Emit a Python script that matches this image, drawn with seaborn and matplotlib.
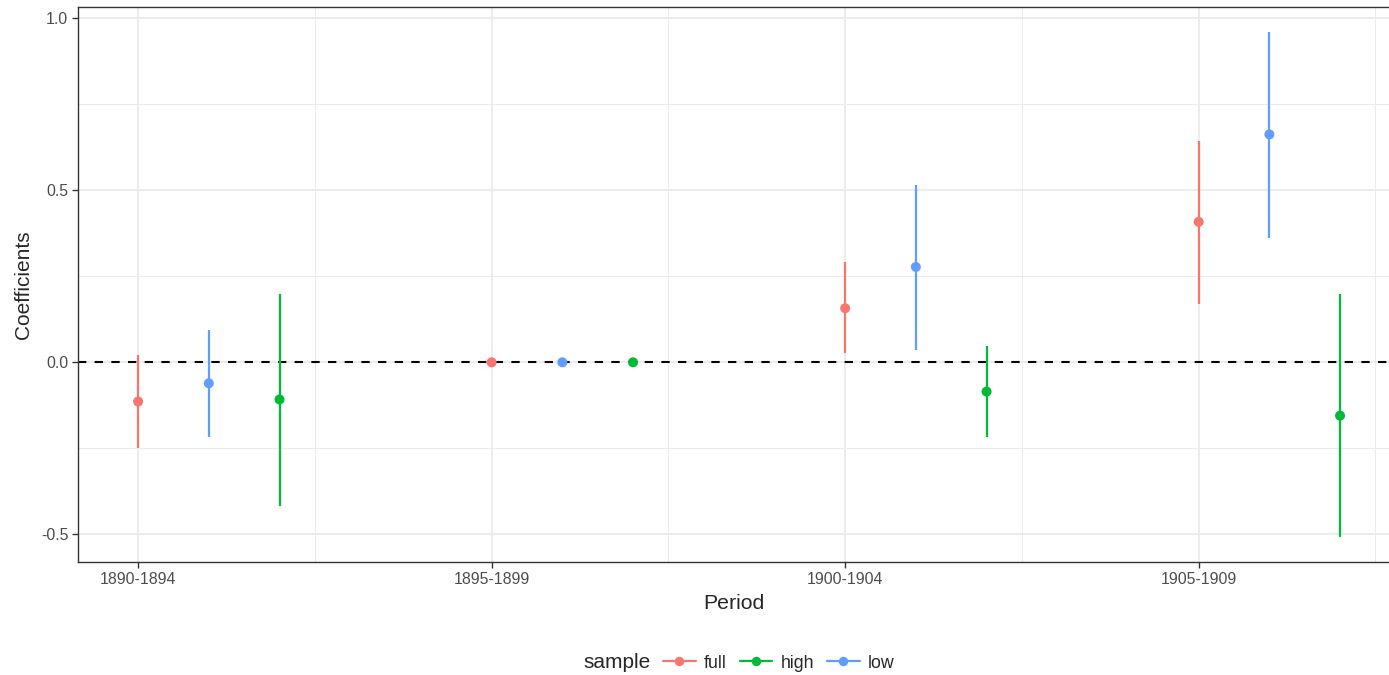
import numpy as np
import pandas as pd
import matplotlib
matplotlib.use("Agg")
import matplotlib.pyplot as plt
from matplotlib.lines import Line2D
import seaborn as sns

# ---- data ----
periods = ["1890-1894", "1895-1899", "1900-1904", "1905-1909"]
samples = ["full", "high", "low"]

coef_full = [-0.114, 0.0, 0.157, 0.408]
lo_full = [-0.248, 0.0, 0.026, 0.169]
hi_full = [0.020, 0.0, 0.290, 0.644]

coef_low = [-0.061, 0.0, 0.277, 0.662]
lo_low = [-0.216, 0.0, 0.035, 0.361]
hi_low = [0.093, 0.0, 0.516, 0.959]

coef_high = [-0.108, 0.0, -0.085, -0.155]
lo_high = [-0.417, 0.0, -0.216, -0.507]
hi_high = [0.198, 0.0, 0.047, 0.198]

colors = {"full": "#F8766D", "high": "#00BA38", "low": "#619CFF"}
dodge = {"full": 0.0, "low": 0.2, "high": 0.4}

rows = []
for s, c, lo, hi in [("full", coef_full, lo_full, hi_full),
                     ("low", coef_low, lo_low, hi_low),
                     ("high", coef_high, lo_high, hi_high)]:
    for i, p in enumerate(periods):
        rows.append({"period": p, "sample": s, "coef": c[i], "lo": lo[i], "hi": hi[i],
                     "x": i + 1 + dodge[s]})
df = pd.DataFrame(rows)

# ---- figure ----
sns.set_style("white")
plt.rcParams["font.family"] = ["Liberation Sans", "DejaVu Sans"]

fig = plt.figure(figsize=(13.89, 6.75), dpi=100)
ax = fig.add_axes([78 / 1389, 1 - 562 / 675, 1 - 78 / 1389, (562 - 7) / 675])

# grid like theme_bw
grid_major = "#EBEBEB"
for xv in range(1, 5):
    ax.axvline(xv, color=grid_major, lw=1.3, zorder=0)
for xv in np.arange(1.5, 5, 1):
    ax.axvline(xv, color=grid_major, lw=0.7, zorder=0)
for yv in [-0.5, 0, 0.5, 1.0]:
    ax.axhline(yv, color=grid_major, lw=1.3, zorder=0)
for yv in [-0.25, 0.25, 0.75]:
    ax.axhline(yv, color=grid_major, lw=0.7, zorder=0)

ax.axhline(0, color="black", lw=1.5, ls=(0, (4, 4)), zorder=1)

for s in ["full", "low", "high"]:
    d = df[df["sample"] == s]
    ax.vlines(d["x"], d["lo"], d["hi"], color=colors[s], lw=1.6, zorder=2)

sns.scatterplot(data=df, x="x", y="coef", hue="sample", palette=colors,
                s=52, linewidth=0, legend=False, ax=ax, zorder=3)

ax.set_xlim(0.83, 4.4 + (1389 - 1340) / 354)
ax.set_ylim(-0.58, 1.032)
ax.set_xticks(range(1, 5))
ax.set_xticklabels(periods)
ax.set_yticks([-0.5, 0, 0.5, 1.0])
ax.set_yticklabels(["-0.5", "0.0", "0.5", "1.0"])
ax.tick_params(axis="both", labelsize=11.4, labelcolor="#4D4D4D", color="#333333",
               length=4, width=1, direction="out", bottom=True, left=True)
ax.tick_params(axis="x", pad=3)
ax.tick_params(axis="y", pad=3)
ax.set_xlabel("Period", fontsize=15.3, labelpad=5)
ax.set_ylabel("Coefficients", fontsize=15, labelpad=6)

for side in ["left", "top", "bottom"]:
    ax.spines[side].set_color("#333333")
    ax.spines[side].set_linewidth(1)
ax.spines["right"].set_visible(False)

# legend: ggplot-style title to the left of the keys
fig.text(583 / 1389, 1 - 662 / 675, "sample", fontsize=15, ha="left", va="center")
handles = [Line2D([0], [0], color=colors[s], lw=1.6, marker="o", markersize=6.8,
                  markeredgewidth=0) for s in samples]
fig.legend(handles, samples, loc="center left",
           bbox_to_anchor=(663 / 1389, 1 - 663 / 675), ncol=3, frameon=False,
           fontsize=12.8, handlelength=1.85, borderpad=0, borderaxespad=0,
           columnspacing=0.72, handletextpad=0.45)

fig.savefig("out.png", dpi=100)
